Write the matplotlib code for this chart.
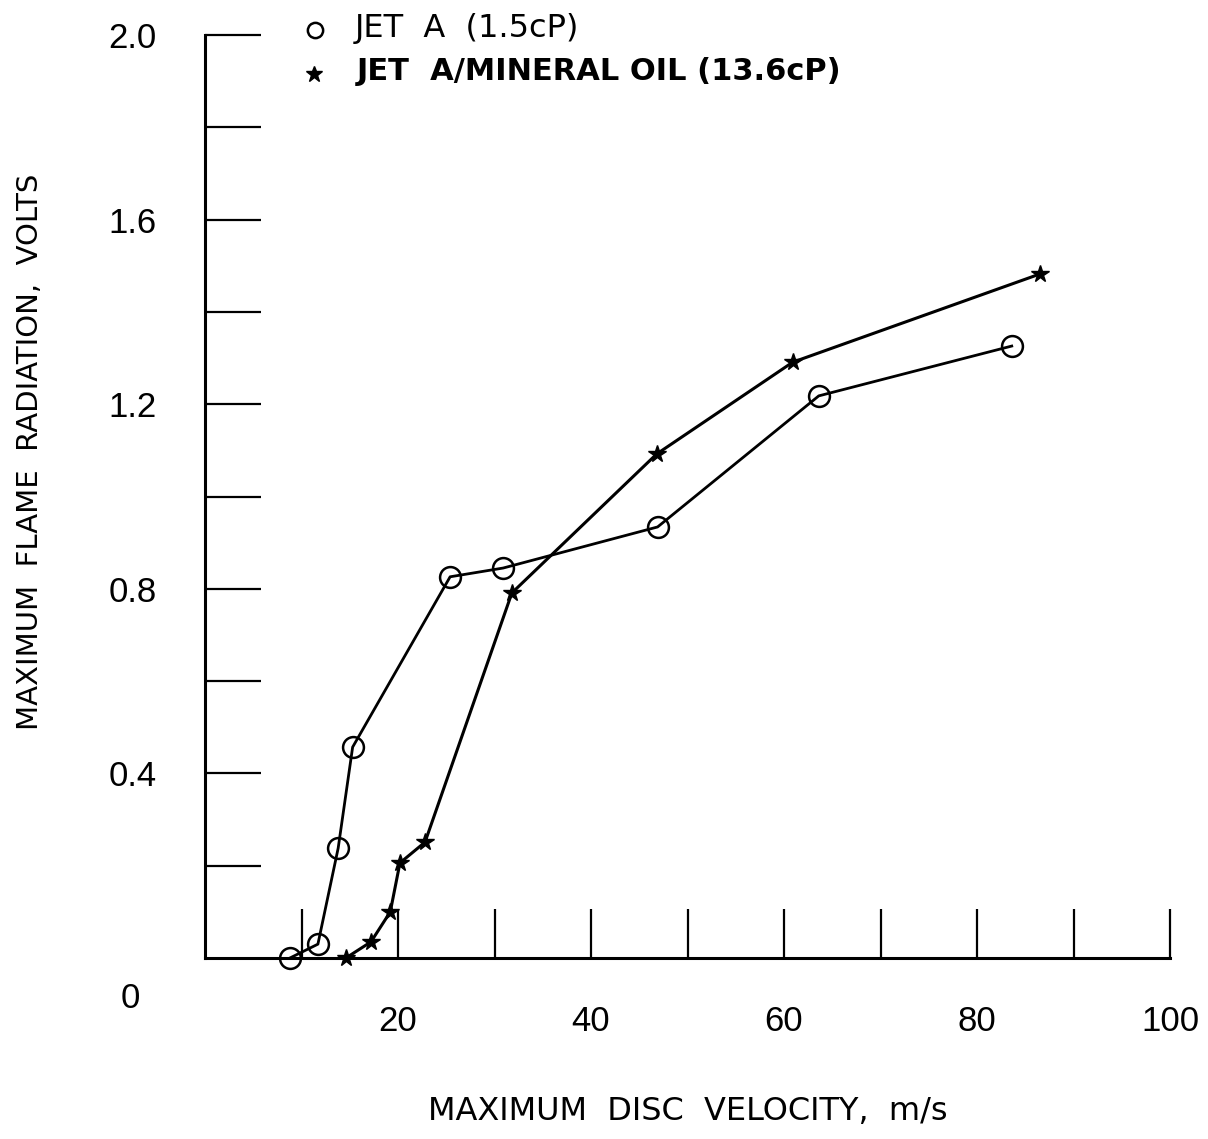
import matplotlib.pyplot as plt
from matplotlib.ticker import FixedLocator, NullFormatter

plt.rcParams['font.family'] = 'Liberation Sans'
plt.rcParams['axes.linewidth'] = 2.2

# disc velocity (m/s) vs peak flame radiation (V)
jet_a_vel = [8.8, 11.7, 13.8, 15.3, 25.4, 30.9, 46.9, 63.6, 83.6]
jet_a_rad = [0.0, 0.03, 0.238, 0.457, 0.826, 0.845, 0.934, 1.218, 1.326]

oil_vel = [14.6, 17.2, 19.2, 20.2, 22.8, 31.8, 46.8, 60.9, 86.5]
oil_rad = [0.0, 0.035, 0.10, 0.206, 0.251, 0.791, 1.092, 1.291, 1.482]

x_major = [20, 40, 60, 80, 100]
x_minor = [10, 30, 50, 70, 90]
y_major = [0.4, 0.8, 1.2, 1.6, 2.0]
y_minor = [0.2, 0.6, 1.0, 1.4, 1.8]

label_font = 'DejaVu Sans'

fig = plt.figure(figsize=(12.08, 11.39), dpi=100)
ax = fig.add_axes([205/1208, 1 - 958/1139, 965/1208, 923/1139])

ax.plot(jet_a_vel, jet_a_rad, color='black', lw=2.0, marker='o', ms=15,
        mfc='none', mec='black', mew=1.8, clip_on=False, zorder=3)
ax.plot(oil_vel, oil_rad, color='black', lw=2.2, marker='*', ms=13,
        mfc='black', mec='black', mew=1.0, clip_on=False, zorder=3)

ax.set_xlim(0, 100)
ax.set_ylim(0, 2.0)
ax.spines['top'].set_visible(False)
ax.spines['right'].set_visible(False)

ax.xaxis.set_major_locator(FixedLocator(x_major))
ax.xaxis.set_minor_locator(FixedLocator(x_minor))
ax.yaxis.set_major_locator(FixedLocator(y_major))
ax.yaxis.set_minor_locator(FixedLocator(y_minor))
ax.xaxis.set_minor_formatter(NullFormatter())
ax.yaxis.set_minor_formatter(NullFormatter())
ax.set_xticklabels([str(v) for v in x_major])
ax.set_yticklabels([f'{v:.1f}' for v in y_major])

ax.tick_params(axis='x', which='both', direction='in', length=35, width=1.6,
               pad=34, labelsize=25)
ax.tick_params(axis='y', which='both', direction='in', length=40, width=1.6,
               pad=35, labelsize=25)

# shared origin label
ax.text(130/1208, 1 - 998/1139, '0', transform=fig.transFigure,
        ha='center', va='center', fontsize=25)

fig.text(30/1208, 1 - 452/1139, 'MAXIMUM  FLAME  RADIATION,  VOLTS',
         rotation=90, ha='center', va='center', fontsize=21,
         family=label_font)
fig.text(688/1208, 1 - 1112/1139, 'MAXIMUM  DISC  VELOCITY,  m/s',
         ha='center', va='center', fontsize=23, family=label_font)

# legend above the plot
ax.plot([315/1208], [1 - 30/1139], transform=fig.transFigure, marker='o',
        ms=11, mfc='none', mec='black', mew=1.8, clip_on=False)
fig.text(355/1208, 1 - 28/1139, 'JET  A  (1.5cP)', ha='left', va='center',
         fontsize=23, family=label_font)
ax.plot([314/1208], [1 - 74/1139], transform=fig.transFigure, marker='*',
        ms=12, mfc='black', mec='black', clip_on=False)
fig.text(357/1208, 1 - 72/1139, 'JET  A/MINERAL OIL (13.6cP)', ha='left',
         va='center', fontsize=22, fontweight='bold', family=label_font)

fig.savefig('out.png', dpi=100)
